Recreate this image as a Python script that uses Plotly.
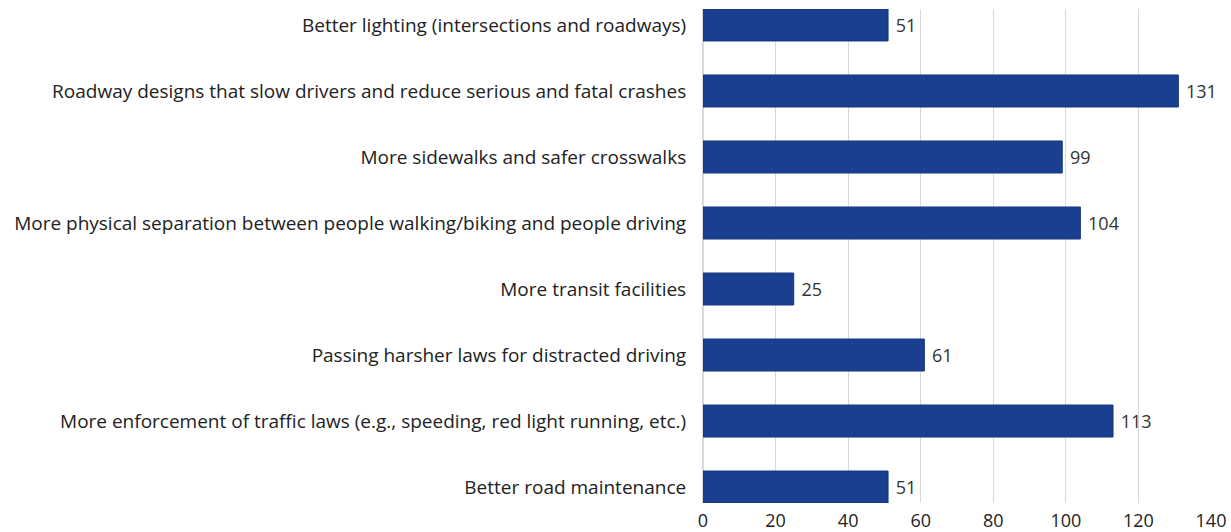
import plotly.graph_objects as go

# Survey responses, listed bottom to top on the chart
categories = [
    "Better road maintenance",
    "More enforcement of traffic laws (e.g., speeding, red light running, etc.)",
    "Passing harsher laws for distracted driving",
    "More transit facilities",
    "More physical separation between people walking/biking and people driving",
    "More sidewalks and safer crosswalks",
    "Roadway designs that slow drivers and reduce serious and fatal crashes",
    "Better lighting (intersections and roadways)",
]
counts = [51, 113, 61, 25, 104, 99, 131, 51]
x_ticks = [0, 20, 40, 60, 80, 100, 120, 140]

FONT = "Open Sans"
BAR = "#1b3f8f"

fig = go.Figure(
    go.Bar(
        y=categories,
        x=counts,
        orientation="h",
        width=0.485,
        marker=dict(color=BAR, line=dict(color="#163682", width=1)),
        text=[" " + str(v) for v in counts],
        textposition="outside",
        textfont=dict(family=FONT, size=18, color="#333333"),
        cliponaxis=False,
    )
)

fig.update_layout(
    width=1231,
    height=532,
    margin=dict(l=703, r=20, t=9, b=29),
    paper_bgcolor="white",
    plot_bgcolor="white",
    showlegend=False,
    font=dict(family=FONT, size=19, color="#222222"),
)

fig.update_xaxes(
    range=[0, 140],
    tickvals=x_ticks,
    showgrid=True,
    gridcolor="#d9d9d9",
    gridwidth=1,
    zeroline=True,
    zerolinecolor="#d9d9d9",
    showline=False,
    ticks="",
    automargin=False,
    ticklabelstandoff=5,
    tickfont=dict(family=FONT, size=18, color="#222222"),
)

fig.update_yaxes(
    type="category",
    categoryorder="array",
    categoryarray=categories,
    range=[-0.242, 7.242],
    showgrid=False,
    ticks="outside",
    ticklen=12,
    tickcolor="rgba(0,0,0,0)",
    automargin=False,
    tickfont=dict(family=FONT, size=19, color="#222222"),
)

fig.write_html("out.html")
